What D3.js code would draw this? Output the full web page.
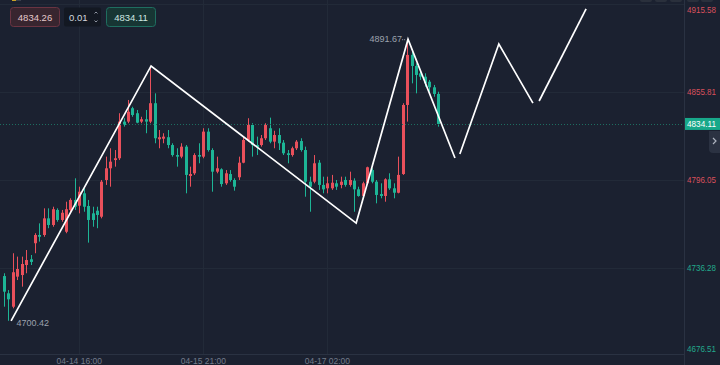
<!DOCTYPE html>
<html><head><meta charset="utf-8">
<script src="https://cdn.jsdelivr.net/npm/d3@7"></script>
<style>
html,body{margin:0;padding:0;background:#1b2130;overflow:hidden;}
svg{display:block;font-family:"Liberation Sans",Arial,sans-serif;}
</style></head>
<body>
<svg id="c" width="720" height="365"></svg>
<script>
// ---- data ----
const opens  = [4730.8,4719.1,4710.0,4730.4,4731.5,4738.3,4742.2,4753.1,4758.7,4758.7,4770.0,4765.5,4775.7,4768.9,4760.9,4775.7,4782.5,4778.6,4787.0,4778.4,4773.4,4775.2,4771.1,4796.05,4804.0,4809.6,4810.8,4835.7,4835.7,4844.8,4841.4,4835.7,4837.3,4835.7,4848.2,4823.7,4824.1,4825.1,4819.8,4813.0,4811.9,4818.7,4798.8,4800.6,4813.0,4811.9,4828.9,4816.4,4801.7,4803.3,4793.8,4800.1,4796.05,4797.9,4807.8,4823.2,4833.4,4819.8,4819.8,4824.4,4831.2,4822.1,4826.6,4821.4,4814.2,4813.0,4817.6,4822.5,4816.4,4794.9,4794.9,4807.8,4792.7,4790.4,4790.4,4793.8,4792.7,4796.05,4792.7,4795.6,4789.7,4785.2,4793.8,4802.8,4794.9,4786.5,4785.2,4796.5,4790.4,4787.4,4800.1,4847.0,4881.0,4873.5,4868.5,4866.2,4862.8,4859.0,4854.5];
const highs  = [4732.7,4721.3,4746.3,4744.0,4744.0,4748.5,4745.1,4759.9,4766.6,4776.8,4776.8,4777.9,4776.8,4775.7,4781.3,4783.6,4797.2,4791.5,4790.4,4782.5,4777.9,4777.9,4796.05,4811.9,4817.6,4816.4,4841.4,4838.0,4850.4,4845.8,4843.6,4839.0,4843.6,4873.5,4854.9,4830.0,4827.8,4830.0,4821.0,4817.6,4821.0,4819.8,4805.1,4814.2,4821.0,4831.2,4831.2,4817.6,4811.9,4804.0,4802.8,4802.8,4797.2,4811.9,4825.5,4838.0,4834.6,4825.5,4826.6,4834.6,4838.4,4829.5,4831.2,4823.2,4816.4,4818.7,4823.2,4824.4,4818.7,4798.3,4813.0,4809.6,4798.3,4798.3,4799.5,4796.05,4798.3,4798.3,4801.7,4797.2,4791.5,4794.9,4805.1,4804.0,4796.05,4793.8,4797.2,4800.6,4793.8,4811.9,4848.2,4891.67,4883.2,4875.3,4870.8,4868.5,4864.0,4860.6,4856.0];
const lows   = [4710.0,4700.42,4708.9,4728.1,4723.6,4732.7,4738.3,4746.3,4754.2,4757.5,4763.3,4764.3,4767.7,4767.7,4759.9,4773.4,4775.7,4773.4,4774.5,4753.5,4764.3,4763.3,4770.0,4792.7,4791.5,4805.1,4809.6,4832.3,4834.6,4839.0,4834.6,4834.6,4827.8,4834.6,4821.0,4817.6,4821.0,4817.6,4811.9,4805.1,4810.8,4787.0,4791.5,4799.5,4807.4,4810.8,4815.3,4788.1,4800.6,4791.5,4792.7,4794.9,4788.8,4796.05,4807.4,4822.1,4811.9,4813.0,4818.7,4823.2,4821.0,4817.6,4816.4,4813.0,4807.4,4811.9,4816.4,4815.3,4784.7,4774.5,4793.8,4789.3,4787.0,4787.0,4789.3,4789.3,4790.4,4791.5,4791.5,4774.5,4784.7,4784.7,4792.7,4793.8,4780.2,4783.6,4781.3,4789.3,4783.6,4787.0,4799.5,4835.7,4861.7,4854.9,4864.0,4859.4,4856.0,4852.6,4832.3];
const closes = [4720.2,4715.0,4733.4,4735.6,4739.0,4741.7,4740.4,4758.7,4757.5,4770.0,4765.5,4776.2,4768.9,4773.8,4776.2,4782.5,4777.9,4788.1,4777.9,4768.9,4768.9,4772.3,4794.9,4804.0,4808.5,4810.8,4835.7,4833.4,4842.4,4840.2,4835.0,4837.3,4835.7,4848.2,4824.4,4825.1,4825.5,4819.8,4813.0,4811.9,4818.7,4799.5,4800.1,4813.0,4811.9,4828.9,4816.4,4801.7,4804.0,4793.3,4800.6,4796.05,4791.5,4807.8,4823.2,4833.4,4819.8,4818.3,4824.4,4833.4,4822.1,4826.6,4821.0,4814.2,4813.0,4817.6,4822.1,4816.4,4794.9,4791.5,4807.4,4792.7,4789.7,4793.8,4794.2,4791.5,4794.9,4792.7,4796.05,4789.7,4785.2,4793.8,4804.7,4794.9,4785.9,4785.2,4796.5,4790.4,4787.4,4799.5,4847.0,4881.0,4873.5,4867.4,4866.2,4861.7,4859.0,4854.5,4834.11];

const priceTicks = [4676.51, 4736.28, 4796.05, 4855.81, 4915.58];
const timeTickIndex = [17, 45, 73];
const timeTickLabels = ["04-14 16:00", "04-15 21:00", "04-17 02:00"];

// drawn zigzag (index, price), split into separate strokes
const zigA_idx = [1.6, 33.2, 79.5, 91.2, 101.8];
const zigA_px  = [4700.42, 4873.5, 4766.8, 4891.67, 4811.0];
const zigB_idx = [102.9, 111.7, 119.4];
const zigB_px  = [4813.7, 4888.4, 4848.3];
const zigC_idx = [120.8, 131.4];
const zigC_px  = [4849.7, 4912.2];

const lastPrice = 4834.11;
const bidPrice = "4834.26", askPrice = "4834.11", stepSize = "0.01";
const refPrice = 4766.0; // axis label colour split

// ---- layout ----
const W = 720, H = 365, plotR = 684, plotB = 354;
const RED = "#e9505b", GREEN = "#1db596", BG = "#1b2130", GRID = "#222a38";
const svg = d3.select("#c");
svg.append("rect").attr("width", W).attr("height", H).attr("fill", BG);

const x = d3.scaleLinear().domain([0, 100]).range([4, 447]);
const y = d3.scaleLinear().domain([4676.51, 4915.58]).range([356, 4]);

const plot = svg.append("g");
plot.append("defs").append("clipPath").attr("id","pc")
  .append("rect").attr("x",0).attr("y",0).attr("width",plotR).attr("height",plotB);

// grid
const grid = plot.append("g").attr("clip-path","url(#pc)");
grid.selectAll("line.h").data(priceTicks).join("line")
  .attr("x1",0).attr("x2",plotR).attr("y1",d=>Math.round(y(d))+0.5).attr("y2",d=>Math.round(y(d))+0.5)
  .attr("stroke",GRID).attr("stroke-width",1);
grid.selectAll("line.v").data(timeTickIndex).join("line")
  .attr("y1",0).attr("y2",plotB).attr("x1",d=>Math.round(x(d))+0.5).attr("x2",d=>Math.round(x(d))+0.5)
  .attr("stroke",GRID).attr("stroke-width",1);

// axes borders
svg.append("line").attr("x1",plotR+0.5).attr("x2",plotR+0.5).attr("y1",0).attr("y2",H).attr("stroke","#2a3242");
svg.append("line").attr("x1",0).attr("x2",plotR).attr("y1",plotB+0.5).attr("y2",plotB+0.5).attr("stroke","#2a3242");

// candles
const candles = opens.map((o,i)=>({i,o,h:highs[i],l:lows[i],c:closes[i]}));
const cg = plot.append("g").attr("clip-path","url(#pc)");
cg.selectAll("line.w").data(candles).join("line")
  .attr("x1",d=>Math.round(x(d.i))+0.5).attr("x2",d=>Math.round(x(d.i))+0.5)
  .attr("y1",d=>y(d.h)).attr("y2",d=>y(d.l))
  .attr("stroke",d=>d.c>=d.o?RED:GREEN).attr("stroke-width",1);
cg.selectAll("rect.b").data(candles).join("rect")
  .attr("x",d=>Math.round(x(d.i))-1).attr("width",3)
  .attr("y",d=>y(Math.max(d.o,d.c)))
  .attr("height",d=>Math.max(1,Math.abs(y(d.o)-y(d.c))))
  .attr("fill",d=>d.c>=d.o?RED:GREEN);

// last price dotted line
plot.append("line").attr("x1",0).attr("x2",plotR).attr("y1",Math.round(y(lastPrice))+0.5).attr("y2",Math.round(y(lastPrice))+0.5)
  .attr("stroke","#1d6e60").attr("stroke-width",1).attr("stroke-dasharray","1,2");

// zigzag
const line = d3.line().x(d=>x(d[0])).y(d=>y(d[1]));
[[zigA_idx,zigA_px],[zigB_idx,zigB_px],[zigC_idx,zigC_px]].forEach(([ix,px])=>{
  plot.append("path").datum(ix.map((v,k)=>[v,px[k]])).attr("d",line)
    .attr("fill","none").attr("stroke","#ffffff").attr("stroke-width",1.7).attr("stroke-linejoin","miter");
});

// extreme labels
const hiIdx = d3.maxIndex(highs), loIdx = d3.minIndex(lows);
plot.append("text").attr("x",x(hiIdx)-5).attr("y",y(highs[hiIdx])+3).attr("text-anchor","end")
  .attr("font-size",9).attr("fill","#9ba1ad").text(highs[hiIdx].toFixed(2));
plot.append("line").attr("x1",x(hiIdx)-5).attr("x2",x(hiIdx)-1).attr("y1",y(highs[hiIdx])+0.5).attr("y2",y(highs[hiIdx])+0.5)
  .attr("stroke","#9ba1ad").attr("stroke-dasharray","1,1");
plot.append("text").attr("x",x(loIdx)+8).attr("y",y(lows[loIdx])+5).attr("text-anchor","start")
  .attr("font-size",9).attr("fill","#9ba1ad").text(lows[loIdx].toFixed(2));

// right axis labels
svg.selectAll("text.pl").data(priceTicks).join("text")
  .attr("x",687).attr("y",d=>Math.max(10,Math.min(349,y(d)))+3.2)
  .attr("font-size",9).attr("textLength",29).attr("lengthAdjust","spacingAndGlyphs")
  .attr("fill",d=>d>=refPrice?"#d9505c":"#22a98c").text(d=>d.toFixed(2));

// last price tag
const ly = y(lastPrice);
svg.append("rect").attr("x",685).attr("y",ly-6).attr("width",35).attr("height",12).attr("fill","#18a88a");
svg.append("text").attr("x",687).attr("y",ly+3.2).attr("font-size",9).attr("textLength",29).attr("lengthAdjust","spacingAndGlyphs")
  .attr("fill","#ffffff").text(lastPrice.toFixed(2));
// side tab
svg.append("path").attr("d",`M709,${ly+7} L720,${ly+7} L720,${ly+29} L713,${ly+29} Q709,${ly+29} 709,${ly+25} Z`).attr("fill","#2b3242");
svg.append("path").attr("d",`M713,${ly+14} L716,${ly+17} L713,${ly+20}`).attr("fill","none").attr("stroke","#aeb4c0").attr("stroke-width",1.2);

// time axis labels
svg.selectAll("text.tl").data(timeTickIndex).join("text")
  .attr("x",d=>x(d)).attr("y",364).attr("text-anchor","middle")
  .attr("font-size",8.5).attr("fill","#737b8a").text((d,k)=>timeTickLabels[k]);

// top-right button stubs
[640,655,670,687,701].forEach(bx=>{
  svg.append("rect").attr("x",bx).attr("y",-6).attr("width",12).attr("height",8).attr("rx",2).attr("fill","#2a303c");
});
svg.append("rect").attr("x",12).attr("y",-3).attr("width",4).attr("height",4).attr("fill","#c9a227");
svg.append("rect").attr("x",16).attr("y",-3).attr("width",5).attr("height",4).attr("fill","#3a404c");

// top-left order boxes
const tb = svg.append("g");
tb.append("rect").attr("x",10.5).attr("y",7.5).attr("width",49).attr("height",19).attr("rx",3)
  .attr("fill","#38252f").attr("stroke","#6a3442");
tb.append("text").attr("x",35).attr("y",20.5).attr("text-anchor","middle").attr("font-size",9.5).attr("fill","#e4c9cc").text(bidPrice);
tb.append("rect").attr("x",64).attr("y",7.5).attr("width",37).attr("height",19).attr("rx",2).attr("fill","#131822");
tb.append("text").attr("x",69).attr("y",20.5).attr("font-size",9.5).attr("fill","#d4d7de").text(stepSize);
tb.append("path").attr("d","M94.5,13.5 L96,12 L97.5,13.5").attr("fill","none").attr("stroke","#8d93a0");
tb.append("path").attr("d","M94.5,20.5 L96,22 L97.5,20.5").attr("fill","none").attr("stroke","#8d93a0");
tb.append("rect").attr("x",106.5).attr("y",7.5).attr("width",49).attr("height",19).attr("rx",3)
  .attr("fill","#173634").attr("stroke","#1f6e60");
tb.append("text").attr("x",131).attr("y",20.5).attr("text-anchor","middle").attr("font-size",9.5).attr("fill","#cfe8e2").text(askPrice);
</script>
</body></html>
